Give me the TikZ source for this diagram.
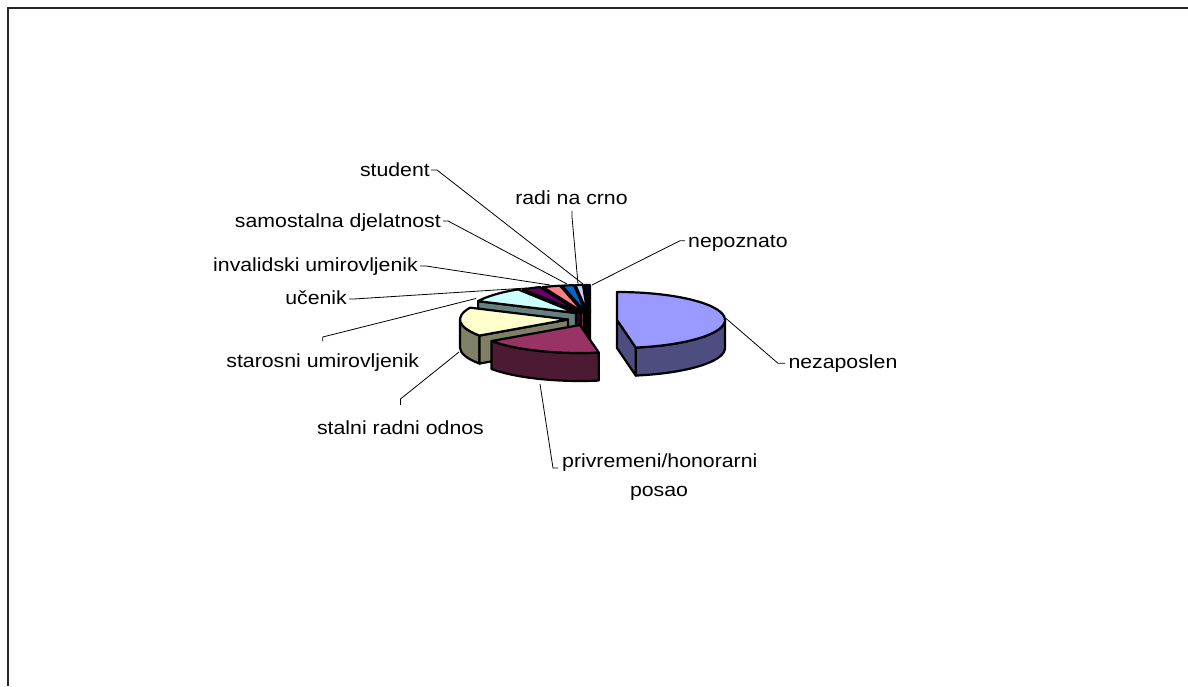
\documentclass[tikz,border=0pt]{standalone}
\usepackage{fontspec}
\setmainfont{Liberation Sans}[FakeStretch=1.12]
\usetikzlibrary{calc}
\definecolor{nzT}{HTML}{9999FF}\definecolor{nzS}{HTML}{4D4D80}
\definecolor{prT}{HTML}{993366}\definecolor{prS}{HTML}{4D1A33}
\definecolor{slT}{HTML}{FFFFCC}\definecolor{slS}{HTML}{808066}
\definecolor{srT}{HTML}{CCFFFF}\definecolor{srS}{HTML}{668080}
\definecolor{ucT}{HTML}{660066}\definecolor{ucS}{HTML}{330033}
\definecolor{inT}{HTML}{FF8080}\definecolor{inS}{HTML}{804040}
\definecolor{saT}{HTML}{0066CC}\definecolor{saS}{HTML}{003366}
\definecolor{stT}{HTML}{CCCCFF}\definecolor{stS}{HTML}{666680}
\definecolor{rcT}{HTML}{000080}\definecolor{rcS}{HTML}{000040}
\definecolor{npT}{HTML}{FF00FF}\definecolor{npS}{HTML}{800080}
\tikzset{
  slice/.style={draw=black, line width=2.2pt, line join=round},
  lbl/.style={font=\fontsize{19}{23}\selectfont, inner sep=0pt, text=black},
  leader/.style={draw=black, line width=0.8pt},
  frame/.style={draw=black!85, line width=1.6pt}
}
% top face: apex x, apex y, start angle, end angle, colour
\newcommand{\slTop}[5]{\filldraw[slice,fill=#5] (#1,#2) -- ++(#3:108pt and 28pt) arc[start angle=#3,end angle=#4,x radius=108pt,y radius=28pt] -- cycle;}
% outer side face
\newcommand{\slSide}[5]{\filldraw[slice,fill=#5] ($(#1,#2)+(#3:108pt and 28pt)$) arc[start angle=#3,end angle=#4,x radius=108pt,y radius=28pt] -- ++(0,-28pt) arc[start angle=#4,end angle=#3,x radius=108pt,y radius=28pt] -- cycle;}
% radial cut face
\newcommand{\slRad}[4]{\filldraw[slice,fill=#4] (#1,#2) -- ++(#3:108pt and 28pt) -- ++(0,-28pt) -- ($(#1,#2)+(0,-28pt)$) -- cycle;}
\begin{document}
\begin{tikzpicture}[x=1pt,y=1pt]
\useasboundingbox (0,0) rectangle (1188,686);
\fill[white] (0,0) rectangle (1188,686);
\draw[frame] (8,0) -- (8,678) -- (1188,678);

% slices, back to front
\slRad{590}{373}{90.6}{npS}\slTop{590}{373}{90.6}{90}{npT}
\slRad{589}{373}{92.4}{rcS}\slTop{589}{373}{92.4}{90.6}{rcT}
\slRad{587.5}{373}{96.4}{stS}\slTop{587.5}{373}{96.4}{92.4}{stT}
\slRad{586}{373}{102.8}{saS}\slTop{586}{373}{102.8}{96.4}{saT}
\slRad{584}{373}{112.3}{inS}\slTop{584}{373}{112.3}{102.8}{inT}
\slRad{581}{373}{122.5}{ucS}\slTop{581}{373}{122.5}{112.3}{ucT}
\slRad{576}{373}{155}{srS}\slTop{576}{373}{155}{122.5}{srT}
\slSide{568}{366.5}{-145}{-180}{slS}\slRad{568}{366.5}{-145}{slS}\slTop{568}{366.5}{-145}{-205}{slT}
\slSide{617}{366}{0}{-80}{nzS}\slRad{617}{366}{-80}{nzS}\slTop{617}{366}{90}{-80}{nzT}
\slSide{580}{361}{-80}{-145}{prS}\slTop{580}{361}{-80}{-145}{prT}

% points on the slices where leaders end
\coordinate (pStudent) at (583,402);
\coordinate (pRadi) at (578,402);
\coordinate (pNepoz) at (592,401);
\coordinate (pSamo) at (567,402);
\coordinate (pInval) at (550,401);
\coordinate (pUcen) at (527,398);
\coordinate (pStaro) at (476,387.5);
\coordinate (pStal) at (459,334);
\coordinate (pPriv) at (540,302);
\coordinate (pNeza) at (725.5,368);

% labels
\node[lbl, anchor=base east] (lStudent) at (430,509.3) {student};
\node[lbl, anchor=base] (lRadi) at (571.5,481) {radi na crno};
\node[lbl, anchor=base west] (lNepoz) at (688,438.7) {nepoznato};
\node[lbl, anchor=base east] (lSamo) at (441,458) {samostalna djelatnost};
\node[lbl, anchor=base east] (lInval) at (418,414.3) {invalidski umirovljenik};
\node[lbl, anchor=base east] (lUcen) at (347,381) {učenik};
\node[lbl, anchor=base] (lStaro) at (322.8,318) {starosni umirovljenik};
\node[lbl, anchor=base] (lStal) at (400.5,252) {stalni radni odnos};
\node[lbl, anchor=base west] (lPrivA) at (562,219) {privremeni/honorarni};
\node[lbl, anchor=base] (lPrivB) at (659,190) {posao};
\node[lbl, anchor=base west] (lNeza) at (788.3,317) {nezaposlen};

% leader lines
\draw[leader] ([shift={(1pt,6.7pt)}]lStudent.base east) -- ++(6,0) -- (pStudent);
\draw[leader] ([shift={(0.5pt,-6pt)}]lRadi.base) -- ++(0,-6) -- (pRadi);
\draw[leader] ([shift={(-3pt,6.6pt)}]lNepoz.base west) -- ++(-5,0) -- (pNepoz);
\draw[leader] ([shift={(2pt,7pt)}]lSamo.base east) -- ++(5,0) -- (pSamo);
\draw[leader] ([shift={(2pt,5.7pt)}]lInval.base east) -- ++(6,0) -- (pInval);
\draw[leader] ([shift={(2pt,6pt)}]lUcen.base east) -- ++(5,0) -- (pUcen);
\draw[leader] ([shift={(0pt,26.5pt)}]lStaro.base) -- ++(0,4.5) -- (pStaro);
\draw[leader] ([shift={(0pt,29pt)}]lStal.base) -- ++(0,6) -- (pStal);
\draw[leader] ([shift={(-4pt,-1pt)}]lPrivA.base west) -- ++(-5,0) -- (pPriv);
\draw[leader] ([shift={(-3.3pt,5.7pt)}]lNeza.base west) -- ++(-7,0) -- (pNeza);
\end{tikzpicture}
\end{document}
